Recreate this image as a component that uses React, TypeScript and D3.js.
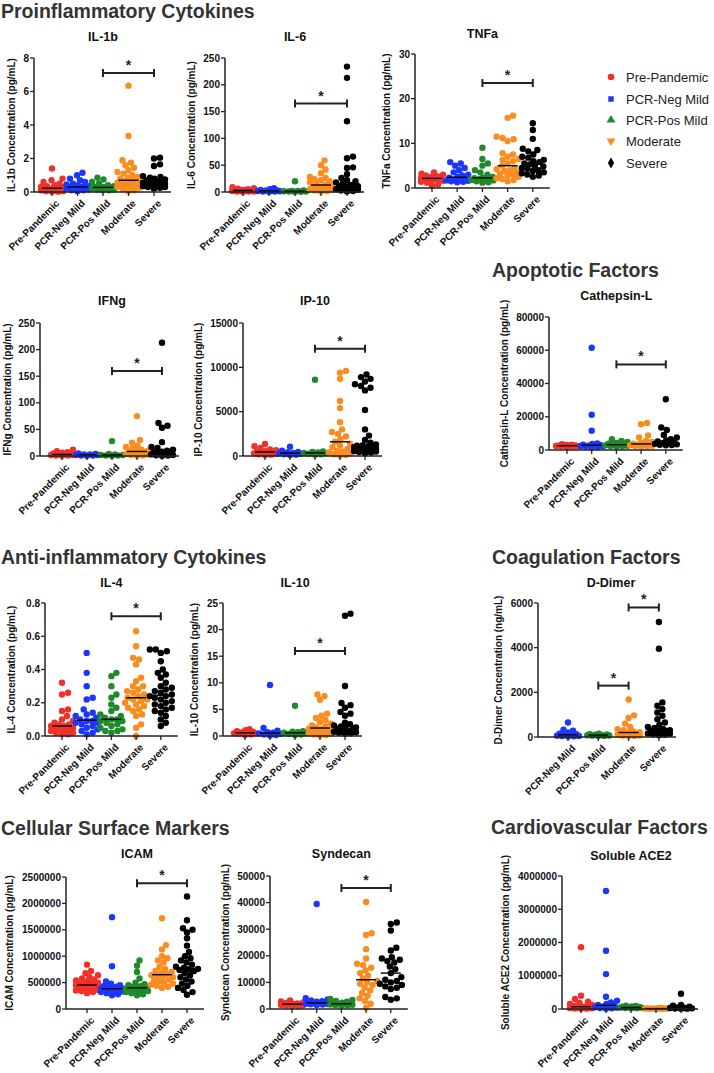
import React from "react";
import * as d3 from "d3";

const GROUPS = ["Pre-Pandemic", "PCR-Neg Mild", "PCR-Pos Mild", "Moderate", "Severe"];
const GROUPS_DD = ["PCR-Neg Mild", "PCR-Pos Mild", "Moderate", "Severe"];
const GROUP_COLORS = ["#f2302a", "#1a36ff", "#1e8a2a", "#fb8c1f", "#000000"];
const GROUP_SYMBOLS = ["circle", "square", "triangle", "triangleDown", "diamond"];

// ---- data ----
const IL1B = [
  [1.4, 0.8, 0.7, 0.6, 0.5, 0.4, 0.35, 0.3, 0.3, 0.25, 0.2, 0.2, 0.15, 0.15, 0.1, 0.1, 0.05, 0.05, 0.02, 0.02],
  [1.15, 1.0, 0.8, 0.7, 0.6, 0.5, 0.45, 0.4, 0.35, 0.3, 0.3, 0.25, 0.25, 0.2, 0.2, 0.15, 0.1, 0.1, 0.05],
  [0.85, 0.75, 0.6, 0.5, 0.4, 0.35, 0.3, 0.3, 0.25, 0.2, 0.2, 0.2, 0.15, 0.15, 0.1, 0.1],
  [6.35, 3.35, 1.9, 1.75, 1.6, 1.45, 1.3, 1.2, 1.1, 1.0, 0.9, 0.85, 0.8, 0.7, 0.65, 0.6, 0.6, 0.55, 0.5, 0.45, 0.4, 0.35, 0.3, 0.25, 0.2, 0.1, 0.05],
  [2.05, 2.0, 1.65, 1.55, 0.95, 0.9, 0.85, 0.8, 0.75, 0.7, 0.65, 0.6, 0.6, 0.55, 0.55, 0.5, 0.5, 0.45, 0.45, 0.4, 0.4, 0.35, 0.35, 0.3, 0.3, 0.25, 0.2],
];
const IL6 = [
  [9, 7, 6, 5, 4, 4, 3, 3, 2, 2, 2, 1, 1, 1, 0.5],
  [7, 5, 4, 3, 3, 2, 2, 1.5, 1, 1, 0.5],
  [20, 3, 2, 2, 1.5, 1, 1, 0.5, 0.5],
  [59, 50, 42, 35, 28, 26, 24, 22, 20, 18, 15, 13, 11, 10, 9, 8, 7, 6, 5, 4, 3, 2, 1],
  [234, 213, 132, 66, 63, 46, 45, 33, 26, 22, 20, 18, 15, 13, 11, 10, 9, 8, 7, 6, 5, 4, 3, 2, 1],
];
const TNFA = [
  [3.5, 3.2, 3.0, 2.8, 2.6, 2.5, 2.4, 2.3, 2.2, 2.1, 2.0, 1.9, 1.8, 1.6, 1.4, 1.2, 0.8, 0.5],
  [5.8, 5.5, 5.0, 4.5, 4.0, 3.5, 3.0, 2.8, 2.5, 2.3, 2.0, 1.9, 1.8, 1.7, 1.6, 1.5, 1.4, 1.3],
  [9.0, 6.5, 5.5, 5.0, 4.0, 3.5, 3.0, 2.5, 2.3, 2.2, 2.0, 2.0, 1.9, 1.8, 1.7, 1.5, 1.3, 1.2],
  [16.2, 15.7, 11.5, 11.2, 10.9, 10.5, 7.8, 7.5, 7.0, 6.5, 6.3, 6.0, 5.5, 5.0, 4.5, 4.2, 4.0, 3.8, 3.5, 3.2, 3.0, 2.8, 2.5, 2.2, 2.0, 1.8, 1.5],
  [14.5, 13.0, 11.0, 8.8, 8.5, 8.2, 7.5, 7.0, 6.8, 6.3, 6.0, 5.8, 5.5, 5.3, 5.0, 4.8, 4.5, 4.3, 4.0, 3.8, 3.5, 3.3, 3.0, 2.8, 2.5],
];
const IFNG = [
  [12, 9, 7, 6, 5, 4, 3, 3, 2, 2, 1, 1, 0.5],
  [5, 4, 3, 3, 2, 2, 1, 1, 0.5],
  [28, 4, 3, 2, 2, 1, 1, 0.5],
  [75, 30, 25, 20, 17, 14, 12, 10, 9, 8, 7, 6, 5, 4, 3, 2, 1, 0.5],
  [213, 62, 57, 53, 26, 17, 15, 12, 10, 8, 7, 6, 5, 4, 3, 2, 1.5, 1, 0.5],
];
const IP10 = [
  [1350, 1100, 900, 750, 650, 550, 500, 450, 400, 350, 300, 250, 200, 150, 100],
  [1050, 600, 450, 400, 350, 300, 250, 200, 150, 100],
  [8600, 500, 450, 400, 350, 300, 250, 200, 150],
  [9600, 9400, 8700, 6200, 5400, 3800, 3000, 2700, 2500, 2200, 1900, 1600, 1400, 1200, 1000, 800, 600, 500, 400, 300, 200, 100, 50],
  [9200, 8900, 8700, 8400, 8100, 7900, 7700, 7400, 5200, 3000, 2300, 1800, 1500, 1300, 1200, 1150, 1100, 1050, 1000, 950, 900, 850, 800, 750, 700, 650, 600, 550, 500, 450, 400, 300],
];
const CATHEPSIN = [
  [3500, 3200, 3000, 2900, 2800, 2700, 2600, 2500, 2400, 2300, 2200, 2000, 1800],
  [61500, 21200, 11600, 4000, 3600, 3200, 3000, 2800, 2600, 2400, 2200, 2000, 1800, 1500],
  [6500, 5500, 4800, 4200, 3800, 3500, 3200, 3000, 2800, 2600, 2400, 2200, 2000],
  [16300, 15500, 8800, 7500, 5500, 4800, 4200, 3800, 3500, 3200, 3000, 2800, 2600, 2400, 2200, 2000],
  [30500, 13500, 12000, 9000, 7500, 6500, 5800, 5200, 4700, 4300, 4000, 3700, 3400, 3200, 3000, 2800],
];
const IL4 = [
  [0.32, 0.26, 0.25, 0.16, 0.15, 0.12, 0.1, 0.09, 0.08, 0.07, 0.07, 0.06, 0.06, 0.05, 0.05, 0.04, 0.04, 0.03, 0.03, 0.02, 0.02, 0.01, 0.01],
  [0.5, 0.38, 0.3, 0.23, 0.22, 0.16, 0.14, 0.13, 0.12, 0.11, 0.1, 0.09, 0.09, 0.08, 0.08, 0.07, 0.06, 0.05, 0.04, 0.03, 0.02, 0.01],
  [0.38, 0.36, 0.3, 0.25, 0.23, 0.19, 0.17, 0.15, 0.13, 0.12, 0.11, 0.1, 0.1, 0.09, 0.09, 0.08, 0.07, 0.06, 0.05, 0.04, 0.03, 0.03, 0.02],
  [0.63, 0.54, 0.47, 0.46, 0.43, 0.35, 0.33, 0.3, 0.3, 0.28, 0.27, 0.26, 0.25, 0.24, 0.23, 0.22, 0.22, 0.21, 0.2, 0.19, 0.18, 0.17, 0.16, 0.15, 0.13, 0.12, 0.07, 0.05, 0.0],
  [0.52, 0.52, 0.51, 0.5, 0.45, 0.4, 0.38, 0.37, 0.35, 0.32, 0.3, 0.29, 0.28, 0.27, 0.26, 0.25, 0.24, 0.24, 0.23, 0.22, 0.21, 0.2, 0.19, 0.18, 0.17, 0.16, 0.15, 0.14, 0.12, 0.1, 0.08, 0.06],
];
const IL10 = [
  [1.3, 1.1, 0.9, 0.8, 0.7, 0.6, 0.5, 0.5, 0.4, 0.3, 0.2],
  [9.6, 1.5, 1.0, 0.7, 0.6, 0.5, 0.4, 0.3, 0.2, 0.1],
  [5.7, 0.9, 0.8, 0.7, 0.6, 0.5, 0.4, 0.3, 0.2],
  [7.8, 7.5, 6.8, 4.2, 3.8, 3.4, 3.0, 2.6, 2.3, 2.0, 1.8, 1.6, 1.4, 1.3, 1.2, 1.0, 0.9, 0.8, 0.6, 0.5, 0.4, 0.3, 0.2, 0.1],
  [23.0, 22.6, 9.4, 6.2, 5.8, 5.3, 4.5, 4.2, 3.8, 2.5, 2.2, 2.0, 1.8, 1.6, 1.5, 1.3, 1.2, 1.0, 0.9, 0.8, 0.7, 0.6, 0.5, 0.4],
];
const DDIMER = [
  [650, 330, 280, 200, 150, 120, 100, 80, 60, 50, 40, 30, 20],
  [150, 130, 110, 100, 90, 80, 70, 60, 50, 40],
  [1680, 970, 850, 600, 450, 350, 300, 250, 220, 200, 180, 160, 140, 120, 100, 80, 60, 50, 40],
  [5150, 3950, 1550, 1400, 1250, 1100, 950, 800, 650, 550, 450, 400, 350, 300, 280, 250, 230, 200, 180, 160, 140, 120, 100, 80],
];
const ICAM = [
  [840, 720, 680, 640, 600, 580, 560, 540, 520, 500, 490, 480, 470, 460, 450, 440, 430, 420, 410, 400, 390, 380, 370, 360, 350, 340, 320, 300].map((v) => v * 1000),
  [1740, 810, 520, 480, 450, 430, 420, 410, 400, 390, 380, 370, 360, 350, 340, 330, 320, 300, 280, 260].map((v) => v * 1000),
  [920, 820, 700, 580, 500, 470, 450, 430, 420, 410, 400, 390, 380, 370, 360, 350, 340, 320, 300, 280, 260].map((v) => v * 1000),
  [1720, 1210, 1130, 1000, 960, 920, 880, 800, 760, 720, 700, 680, 660, 640, 620, 600, 580, 560, 540, 520, 500, 480, 460, 440, 420, 400].map((v) => v * 1000),
  [2130, 1680, 1530, 1500, 1450, 1340, 1200, 1080, 1000, 960, 920, 880, 840, 800, 780, 760, 750, 740, 720, 680, 640, 600, 560, 520, 480, 440, 400, 360, 320, 270].map((v) => v * 1000),
];
const SYNDECAN = [
  [3200, 2800, 2500, 2300, 2100, 2000, 1900, 1800, 1700, 1600, 1500, 1400, 1300, 1200, 1000],
  [39500, 4100, 3600, 3200, 2900, 2700, 2500, 2300, 2200, 2100, 2000, 1900, 1800, 1700, 1500],
  [3800, 3400, 3000, 2700, 2400, 2200, 2000, 1900, 1800, 1700, 1600, 1500, 1400, 1300],
  [40200, 28500, 27800, 22500, 19000, 17000, 16500, 15500, 14500, 13500, 12500, 11500, 10500, 10000, 9500, 9000, 8000, 7000, 6000, 5000, 4000, 3000, 2000, 500],
  [32500, 32000, 29500, 23000, 22000, 19500, 19000, 18500, 18000, 17500, 16000, 15000, 13500, 12000, 11000, 10500, 10000, 9500, 9000, 8500, 8000, 7500, 4500, 4000, 3500],
];
const ACE2 = [
  [1860, 400, 300, 220, 180, 150, 120, 100, 80, 70, 60, 50, 40, 30, 25, 20, 15, 10, 5].map((v) => v * 1000),
  [3550, 1750, 1050, 370, 250, 200, 150, 120, 100, 80, 60, 50, 40, 30, 20, 10].map((v) => v * 1000),
  [100, 90, 80, 70, 60, 50, 45, 40, 35, 30, 25, 20].map((v) => v * 1000),
  [30, 25, 20, 18, 15, 12, 10, 8, 6, 5, 4].map((v) => v * 1000),
  [460, 120, 100, 70, 50, 40, 30, 20, 15, 10, 5].map((v) => v * 1000),
];

const IL1B_TICKS = [0, 2, 4, 6, 8];
const IL6_TICKS = [0, 50, 100, 150, 200, 250];
const TNFA_TICKS = [0, 10, 20, 30];
const IFNG_TICKS = [0, 50, 100, 150, 200, 250];
const IP10_TICKS = [0, 5000, 10000, 15000];
const CATHEPSIN_TICKS = [0, 20000, 40000, 60000, 80000];
const IL4_TICKS = [0, 0.2, 0.4, 0.6, 0.8];
const IL10_TICKS = [0, 5, 10, 15, 20, 25];
const DDIMER_TICKS = [0, 2000, 4000, 6000];
const ICAM_TICKS = [0, 500000, 1000000, 1500000, 2000000, 2500000];
const SYNDECAN_TICKS = [0, 10000, 20000, 30000, 40000, 50000];
const ACE2_TICKS = [0, 1000000, 2000000, 3000000, 4000000];

const SECTIONS = [
  { text: "Proinflammatory Cytokines", x: 1, y: 18 },
  { text: "Apoptotic Factors", x: 492, y: 277 },
  { text: "Anti-inflammatory Cytokines", x: 1, y: 564 },
  { text: "Coagulation Factors", x: 492, y: 564 },
  { text: "Cellular Surface Markers", x: 1, y: 835 },
  { text: "Cardiovascular Factors", x: 491, y: 834 },
];

type Bracket = { a: string; b: string; v: number };
type Panel = {
  title: string;
  yLabel: string;
  groups: string[];
  values: number[][];
  ticks: number[];
  fmt: (v: number) => string;
  ax: number;
  top: number;
  bottom: number;
  first: number;
  step: number;
  titleY: number;
  brackets: Bracket[];
};

const intFmt = (v: number) => String(v);
const dec1 = d3.format(".1f");

const PANELS: Panel[] = [
  { title: "IL-1b", yLabel: "IL-1b Concentration (pg/mL)", groups: GROUPS, values: IL1B, ticks: IL1B_TICKS, fmt: intFmt, ax: 34, top: 58, bottom: 192, first: 52, step: 25.5, titleY: 41, brackets: [{ a: "PCR-Pos Mild", b: "Severe", v: 7.1 }] },
  { title: "IL-6", yLabel: "IL-6 Concentration (pg/mL)", groups: GROUPS, values: IL6, ticks: IL6_TICKS, fmt: intFmt, ax: 225, top: 58, bottom: 192, first: 243, step: 26, titleY: 41, brackets: [{ a: "PCR-Pos Mild", b: "Severe", v: 165 }] },
  { title: "TNFa", yLabel: "TNFa Concentration (pg/mL)", groups: GROUPS, values: TNFA, ticks: TNFA_TICKS, fmt: intFmt, ax: 415, top: 54, bottom: 188, first: 432, step: 25.2, titleY: 38, brackets: [{ a: "PCR-Pos Mild", b: "Severe", v: 23.5 }] },
  { title: "IFNg", yLabel: "IFNg Concentration (pg/mL)", groups: GROUPS, values: IFNG, ticks: IFNG_TICKS, fmt: intFmt, ax: 40, top: 323, bottom: 456, first: 62, step: 25, titleY: 305, brackets: [{ a: "PCR-Pos Mild", b: "Severe", v: 160 }] },
  { title: "IP-10", yLabel: "IP-10 Concentration (pg/mL)", groups: GROUPS, values: IP10, ticks: IP10_TICKS, fmt: intFmt, ax: 243, top: 323, bottom: 456, first: 265, step: 25, titleY: 305, brackets: [{ a: "PCR-Pos Mild", b: "Severe", v: 12100 }] },
  { title: "Cathepsin-L", yLabel: "Cathepsin-L Concentration (pg/mL)", groups: GROUPS, values: CATHEPSIN, ticks: CATHEPSIN_TICKS, fmt: intFmt, ax: 549, top: 317, bottom: 450, first: 567, step: 24.7, titleY: 300, brackets: [{ a: "PCR-Pos Mild", b: "Severe", v: 51500 }] },
  { title: "IL-4", yLabel: "IL-4 Concentration (pg/mL)", groups: GROUPS, values: IL4, ticks: IL4_TICKS, fmt: dec1, ax: 45, top: 603, bottom: 736, first: 62, step: 24.7, titleY: 587, brackets: [{ a: "PCR-Pos Mild", b: "Severe", v: 0.72 }] },
  { title: "IL-10", yLabel: "IL-10 Concentration (pg/mL)", groups: GROUPS, values: IL10, ticks: IL10_TICKS, fmt: intFmt, ax: 223, top: 603, bottom: 736, first: 245, step: 25, titleY: 587, brackets: [{ a: "PCR-Pos Mild", b: "Severe", v: 16 }] },
  { title: "D-Dimer", yLabel: "D-Dimer Concentration (ng/mL)", groups: GROUPS_DD, values: DDIMER, ticks: DDIMER_TICKS, fmt: intFmt, ax: 538, top: 603, bottom: 737, first: 568, step: 30.3, titleY: 587, brackets: [{ a: "PCR-Pos Mild", b: "Moderate", v: 2300 }, { a: "Moderate", b: "Severe", v: 5800 }] },
  { title: "ICAM", yLabel: "ICAM Concentration (pg/mL)", groups: GROUPS, values: ICAM, ticks: ICAM_TICKS, fmt: intFmt, ax: 66, top: 877, bottom: 1009, first: 87, step: 25, titleY: 858, brackets: [{ a: "PCR-Pos Mild", b: "Severe", v: 2380000 }] },
  { title: "Syndecan", yLabel: "Syndecan Concentration (pg/mL)", groups: GROUPS, values: SYNDECAN, ticks: SYNDECAN_TICKS, fmt: intFmt, ax: 270, top: 876, bottom: 1009, first: 292, step: 24.7, titleY: 858, brackets: [{ a: "PCR-Pos Mild", b: "Severe", v: 45500 }] },
  { title: "Soluble ACE2", yLabel: "Soluble ACE2 Concentration (pg/mL)", groups: GROUPS, values: ACE2, ticks: ACE2_TICKS, fmt: intFmt, ax: 562, top: 876, bottom: 1009, first: 581, step: 25, titleY: 860, brackets: [] },
];

const FONT = "'Liberation Sans', Arial, Helvetica, sans-serif";
const R = 3.2;

function swarm(vals: number[], ys: (v: number) => number, maxOff: number) {
  const sorted = [...vals].sort((a, b) => a - b);
  const placed: { x: number; y: number; v: number }[] = [];
  const D = 5.8;
  for (const v of sorted) {
    const y = ys(v);
    let best = 0;
    let bestScore = -Infinity;
    let found = false;
    for (let k = 0; k <= maxOff && !found; k += 0.5) {
      for (const s of k === 0 ? [0] : [k, -k]) {
        let minD = Infinity;
        for (const p of placed) {
          const dd = Math.hypot(p.x - s, p.y - y);
          if (dd < minD) minD = dd;
        }
        if (minD >= D) {
          best = s;
          found = true;
          break;
        }
        if (minD > bestScore) {
          bestScore = minD;
          best = s;
        }
      }
    }
    placed.push({ x: best, y, v });
  }
  return placed;
}

function PanelView({ p }: { p: Panel }) {
  const ys = d3.scaleLinear().domain([0, p.ticks[p.ticks.length - 1]]).range([p.bottom, p.top]);
  const last = p.first + p.step * (p.groups.length - 1);
  const xs = d3.scalePoint<string>().domain(p.groups).range([p.first, last]);
  const right = last + 17;
  const maxLen = d3.max(p.ticks, (t) => p.fmt(t).length) || 1;
  const tickW = maxLen * 5.6;
  const labelX = Math.max(7, p.ax - 5 - tickW - 12);
  const midY = (p.top + p.bottom) / 2;
  const titleX = xs(p.groups[Math.floor(p.groups.length / 2)]) as number;
  return (
    <g>
      <text x={p.groups.length === 4 ? (p.ax + right) / 2 + 4 : titleX} y={p.titleY} textAnchor="middle" fontSize={12.5} fontWeight="bold" fill="#111">
        {p.title}
      </text>
      <text transform={`translate(${labelX},${midY}) rotate(-90)`} textAnchor="middle" dy="0.35em" fontSize={10} fontWeight="bold" fill="#111">
        {p.yLabel}
      </text>
      {p.ticks.map((t) => (
        <g key={t}>
          <line x1={p.ax - 4} x2={p.ax} y1={ys(t)} y2={ys(t)} stroke="#222" strokeWidth={1.3} />
          <text x={p.ax - 5} y={ys(t)} dy="0.35em" textAnchor="end" fontSize={10} fontWeight="bold" fill="#111">
            {p.fmt(t)}
          </text>
        </g>
      ))}
      {p.groups.map((g) => {
        const gi = GROUPS.indexOf(g);
        const vals = p.values[p.groups.indexOf(g)];
        const cx = xs(g) as number;
        const pts = swarm(vals, ys, 11);
        const med = d3.median(vals) as number;
        return (
          <g key={g}>
            {pts.map((pt, i) => (
              <circle key={i} cx={cx + pt.x} cy={pt.y} r={R} fill={GROUP_COLORS[gi]} />
            ))}
            <line x1={cx - 10} x2={cx + 10} y1={ys(med)} y2={ys(med)} stroke="#000" strokeWidth={1.4} />
            <line x1={cx} x2={cx} y1={p.bottom} y2={p.bottom + 4} stroke="#222" strokeWidth={1.3} />
            <text transform={`translate(${cx + 3},${p.bottom + 7}) rotate(-45)`} textAnchor="end" dy="0.7em" fontSize={10} fontWeight="bold" fill="#111">
              {g}
            </text>
          </g>
        );
      })}
      <line x1={p.ax} x2={p.ax} y1={p.top} y2={p.bottom} stroke="#222" strokeWidth={1.5} />
      <line x1={p.ax} x2={right} y1={p.bottom} y2={p.bottom} stroke="#222" strokeWidth={1.5} />
      {p.brackets.map((b, i) => {
        const x1 = xs(b.a) as number;
        const x2 = xs(b.b) as number;
        const y = ys(b.v);
        return (
          <g key={i} stroke="#222" strokeWidth={2}>
            <line x1={x1} x2={x2} y1={y} y2={y} />
            <line x1={x1} x2={x1} y1={y - 4} y2={y + 4} />
            <line x1={x2} x2={x2} y1={y - 4} y2={y + 4} />
            <text x={(x1 + x2) / 2} y={y - 3} textAnchor="middle" fontSize={14} fontWeight="bold" fill="#222" stroke="none">
              *
            </text>
          </g>
        );
      })}
    </g>
  );
}

function Legend() {
  const x = 611;
  const ys = [77, 99, 120, 141, 163];
  const symType: Record<string, d3.SymbolType> = {
    circle: d3.symbolCircle,
    square: d3.symbolSquare,
    triangle: d3.symbolTriangle,
    triangleDown: d3.symbolTriangle,
    diamond: d3.symbolDiamond,
  };
  return (
    <g>
      {GROUPS.map((g, i) => {
        const path = d3.symbol().type(symType[GROUP_SYMBOLS[i]]).size(GROUP_SYMBOLS[i] === "square" ? 30 : 34)() as string;
        const rot = GROUP_SYMBOLS[i] === "triangleDown" ? 180 : 0;
        return (
          <g key={g}>
            <path d={path} transform={`translate(${x},${ys[i]}) rotate(${rot})`} fill={GROUP_COLORS[i]} />
            <text x={626} y={ys[i]} dy="0.35em" fontSize={13} fill="#222">
              {g}
            </text>
          </g>
        );
      })}
    </g>
  );
}

export default function App() {
  return (
    <div>
      <style>{`body{margin:0;background:#fff}`}</style>
      <svg width={714} height={1073} style={{ display: "block", fontFamily: FONT }}>
        <rect width={714} height={1073} fill="#fff" />
        {SECTIONS.map((s) => (
          <text key={s.text} x={s.x} y={s.y} fontSize={19.5} fontWeight="bold" fill="#333">
            {s.text}
          </text>
        ))}
        {PANELS.map((p) => (
          <PanelView key={p.title} p={p} />
        ))}
        <Legend />
      </svg>
    </div>
  );
}
